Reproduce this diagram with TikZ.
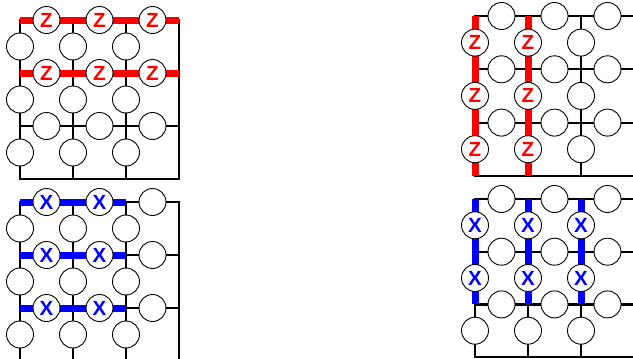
\documentclass[tikz,border=0pt]{standalone}
\usepackage{fontspec}
\setmainfont{Liberation Sans}
\begin{document}
\begin{tikzpicture}[x=1pt,y=-1pt,
  grid/.style={line width=2.2pt, black, line cap=rect},
  zline/.style={line width=7pt, red},
  xline/.style={line width=7pt, blue},
  qubit/.style={circle, draw=black, fill=white, line width=0.9pt, minimum size=27pt, inner sep=0pt,
    font=\fontsize{20.5}{20.5}\selectfont\bfseries},
  zq/.style={qubit, text=red},
  xq/.style={qubit, text=blue}]
\useasboundingbox (0,0) rectangle (633,359);
% ---------- panel A: top left ----------
\foreach \i in {0,...,3}{\foreach \j in {0,...,3}{
  \coordinate (a\i\j) at ({20+53*\i},{20+53*\j});}}
\foreach \j in {0,...,3} \draw[grid] (a0\j) -- (a3\j);
\foreach \i in {0,...,3} \draw[grid] (a\i0) -- (a\i3);
\foreach \j in {0,1} \draw[zline] (a0\j) -- (a3\j);
\foreach \i in {0,1,2}{
  \foreach \j in {0,1} \node[zq] (ah\i\j) at ({46.5+53*\i},{20+53*\j}) {Z};
  \node[qubit] (ah\i2) at ({46.5+53*\i},126) {};
  \foreach \j in {0,1,2} \node[qubit] (av\i\j) at ({20+53*\i},{46.5+53*\j}) {};
}
% ---------- panel B: bottom left ----------
\foreach \i in {0,...,3}{\foreach \j in {0,...,3}{
  \coordinate (b\i\j) at ({20+53*\i},{202+53*\j});}}
\foreach \j in {0,1,2} \draw[grid] (b0\j) -- (b3\j);
\foreach \i in {0,...,3} \draw[grid] (b\i0) -- (b\i3);
\foreach \j in {0,1,2} \draw[xline] (b0\j) -- (b2\j);
\foreach \j in {0,1,2}{
  \foreach \i in {0,1} \node[xq] (bh\i\j) at ({46.5+53*\i},{202+53*\j}) {X};
  \node[qubit] (bh2\j) at (152.5,{202+53*\j}) {};
}
\foreach \i in {0,1,2}{\foreach \j in {0,1,2}{
  \node[qubit] (bv\i\j) at ({20+53*\i},{228.5+53*\j}) {};}}
% ---------- panel C: top right ----------
\foreach \i in {0,...,3}{\foreach \j in {0,...,3}{
  \coordinate (c\i\j) at ({475+53*\i},{16+53.3*\j});}}
\foreach \j in {0,...,3} \draw[grid] (c0\j) -- (c3\j);
\foreach \i in {0,1,2} \draw[grid] (c\i0) -- (c\i3);
\foreach \i in {0,1} \draw[zline] (c\i0) -- (c\i3);
\foreach \i in {0,1,2}{\foreach \j in {0,1,2}{
  \node[qubit] (ch\i\j) at ({501.5+53*\i},{16+53.3*\j}) {};}}
\foreach \j in {0,1,2}{
  \foreach \i in {0,1} \node[zq] (cv\i\j) at ({475+53*\i},{42.6+53.3*\j}) {Z};
  \node[qubit] (cv2\j) at (581,{42.6+53.3*\j}) {};
}
% ---------- panel D: bottom right ----------
\foreach \i in {0,...,3}{\foreach \j in {0,...,3}{
  \coordinate (d\i\j) at ({475+53*\i},{199+52.7*\j});}}
\foreach \j in {0,...,3} \draw[grid] (d0\j) -- (d3\j);
\foreach \i in {0,1,2} \draw[grid] (d\i0) -- (d\i3);
\foreach \i in {0,1,2} \draw[xline] (d\i0) -- (d\i2);
\foreach \i in {0,1,2}{\foreach \j in {0,1,2}{
  \node[qubit] (dh\i\j) at ({501.5+53*\i},{199+52.7*\j}) {};}}
\foreach \i in {0,1,2}{
  \foreach \j in {0,1} \node[xq] (dv\i\j) at ({475+53*\i},{225.3+52.7*\j}) {X};
  \node[qubit] (dv\i2) at ({475+53*\i},330.7) {};
}
\end{tikzpicture}
\end{document}
